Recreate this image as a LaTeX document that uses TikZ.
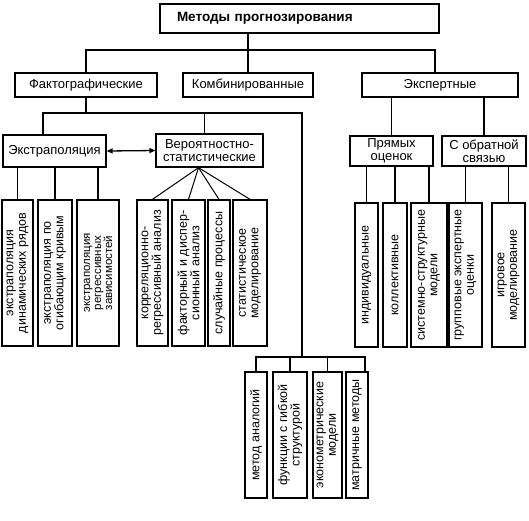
\documentclass[tikz,border=0pt]{standalone}
\usepackage{fontspec}
\setmainfont{Liberation Sans}
\usetikzlibrary{arrows.meta}
\tikzset{
  box/.style={draw, line width=1.3pt, align=center, inner sep=1pt, font=\fontsize{13}{13.5}\selectfont},
  vbox/.style={draw, line width=1.3pt, align=center, inner sep=1pt, rotate=90, font=\fontsize{12.5}{12.5}\selectfont},
  link/.style={line width=1.3pt},
  fan/.style={line width=1pt},
}
\begin{document}
\begin{tikzpicture}[x=1pt,y=-1pt]
\useasboundingbox (0,0) rectangle (529,520);
% upper levels
\node[box, font=\bfseries\fontsize{13.5}{14}\selectfont, align=left, inner xsep=17pt, text width=245, minimum height=29] (metody) at (299.5,18.5) {Методы прогнозирования};
\node[box, minimum width=142, minimum height=24] (fakt) at (86,85) {Фактографические};
\node[box, minimum width=130, minimum height=24] (komb) at (248,85) {Комбинированные};
\node[box, minimum width=156, minimum height=24] (ekspert) at (440,85) {Экспертные};
\node[box, minimum width=103, minimum height=32] (ekstrap) at (54.5,151) {Экстраполяция};
\node[box, minimum width=107, minimum height=33] (verstat) at (209.5,150.5) {Вероятностно-\\статистические};
\node[box, minimum width=83, minimum height=30] (pryam) at (391.5,151) {Прямых\\оценок};
\node[box, minimum width=84, minimum height=30] (obrat) at (484,151) {С обратной\\связью};
% vertical boxes
%     under the extrapolation
\node[vbox, minimum width=146, minimum height=31] (dinam) at (17.5,273) {экстраполяция\\динамических рядов};
\node[vbox, minimum width=146, minimum height=34] (krivye) at (55,273) {экстраполяция по\\огибающим кривым};
\node[vbox, font=\fontsize{11.5}{11}\selectfont, minimum width=146, minimum height=42] (regr) at (98,273) {экстраполяция\\регрессивных\\зависимостей};
%     under the statistical ones
\node[vbox, minimum width=146, minimum height=31] (korr) at (152.5,273) {корреляционно-\\регрессивный анализ};
\node[vbox, minimum width=146, minimum height=33] (faktor) at (188.5,273) {факторный и диспер-\\сионный анализ};
\node[vbox, minimum width=146, minimum height=22] (sluch) at (219,273) {случайные процессы};
\node[vbox, minimum width=146, minimum height=34] (model) at (250,273) {статистическое\\моделирование};
%     under the expert ones
\node[vbox, minimum width=144, minimum height=23] (indiv) at (366.5,275) {индивидуальные};
\node[vbox, minimum width=144, minimum height=24] (kollekt) at (395,275) {коллективные};
\node[vbox, minimum width=144, minimum height=36] (sistem) at (429,275) {системно-структурные\\модели};
\node[vbox, minimum width=144, minimum height=33] (grupp) at (465.5,275) {групповые экспертные\\оценки};
\node[vbox, minimum width=144, minimum height=33] (igrov) at (508.5,275) {игровое\\моделирование};
%     the bottom row
\node[vbox, minimum width=126, minimum height=22] (analog) at (256,435) {метод аналогий};
\node[vbox, minimum width=126, minimum height=34] (gibk) at (290,435) {функции с гибкой\\структурой};
\node[vbox, minimum width=126, minimum height=29] (ekonom) at (327.5,435) {эконометрические\\модели};
\node[vbox, minimum width=126, minimum height=22] (matr) at (357,435) {матричные методы};
% links
\coordinate (m1) at (248,50);
\coordinate (f1) at (43,113);
\coordinate (f2) at (302,357);
\draw[link] (metody.south -| komb.north) -- (komb.north);
\draw[link] (fakt.north) |- (m1) -| ([xshift=-5pt]ekspert.north);
\draw[link] (fakt.south) -- (fakt.south |- f1);
\draw[link] (ekstrap.north -| f1) -- (f1) -| (f2);
\draw[link] ([xshift=-5pt]verstat.north) -- ([xshift=-5pt]verstat.north |- f1);
\draw[link] (analog.east) |- (f2) -| ([xshift=8pt]matr.east);
\draw[link] (gibk.east) -- (gibk.east |- f2);
\draw[link] (ekonom.east) -- (ekonom.east |- f2);
\draw[link, {Triangle[length=6pt,width=5pt]}-{Triangle[length=6pt,width=5pt]}] (ekstrap.east) -- (verstat.west);
\draw[link] (ekstrap.south -| dinam.east) -- (dinam.east);
\draw[link] (ekstrap.south -| krivye.east) -- (krivye.east);
\draw[link] (ekstrap.south -| regr.east) -- (regr.east);
\coordinate (apex) at ([xshift=-11pt]verstat.south);
\draw[fan] (apex) -- (korr.east);
\draw[fan] (apex) -- (faktor.east);
\draw[fan] (apex) -- (sluch.east);
\draw[fan] (apex) -- (model.east);
\draw[link] (ekspert.south -| pryam.north) -- (pryam.north);
\draw[link] (ekspert.south -| obrat.north) -- (obrat.north);
\draw[link] (pryam.south -| indiv.east) -- (indiv.east);
\draw[link] (pryam.south -| kollekt.east) -- (kollekt.east);
\draw[link] (pryam.south -| sistem.east) -- (sistem.east);
\draw[link] (obrat.south -| grupp.east) -- (grupp.east);
\draw[link] (obrat.south -| igrov.east) -- (igrov.east);
\end{tikzpicture}
\end{document}
